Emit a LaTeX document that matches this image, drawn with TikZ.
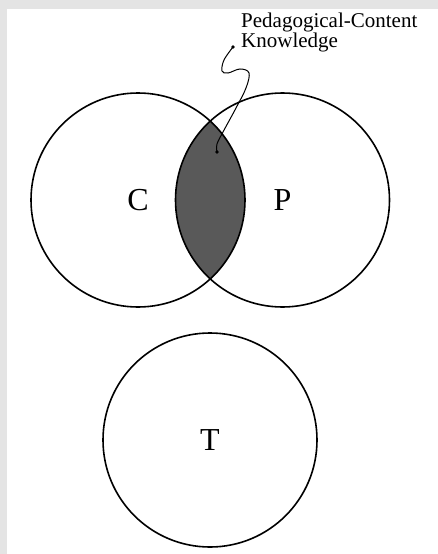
\documentclass[tikz,border=0pt]{standalone}
\usepackage{fontspec}
\setmainfont{Liberation Serif}
\definecolor{bandgray}{HTML}{E4E4E4}
\definecolor{lensgray}{HTML}{595959}
\begin{document}
\begin{tikzpicture}[x=1pt,y=-1pt,
  setcircle/.style={draw=black, line width=1.6pt, circle, minimum size=214pt, inner sep=0pt,
    font=\fontsize{32}{32}\selectfont},
  leader/.style={draw=black, line width=1pt},
  dotmark/.style={fill=black}]
\useasboundingbox (0,0) rectangle (438,554);
\fill[white] (0,0) rectangle (438,554);
\fill[bandgray] (0,0) rectangle (438,9);
\fill[bandgray] (0,0) rectangle (7,554);
% lens
\begin{scope}
  \clip (138,200) circle (107);
  \fill[lensgray] (282.5,200) circle (107);
\end{scope}
\node[setcircle] (C) at (138,200) {C};
\node[setcircle] (P) at (282.5,200) {P};
\node[setcircle] (T) at (210,440) {T};
% label
\node[anchor=base west, align=left, inner sep=0pt,
  font=\fontsize{21}{20}\selectfont] (pcklabel) at (241,47) {Pedagogical-Content\\Knowledge};
\coordinate (pck) at (233,47);
\coordinate (lens) at (217,152);
\draw[leader] plot[smooth, tension=0.6] coordinates {(pck) (224,60) (222,71) (228,73) (240,69) (249,73) (246,88) (236,108) (223,132) (217,144) (lens)};
\fill[dotmark] (pck) circle (1.8);
\fill[dotmark] (lens) circle (1.8);
\end{tikzpicture}
\end{document}
